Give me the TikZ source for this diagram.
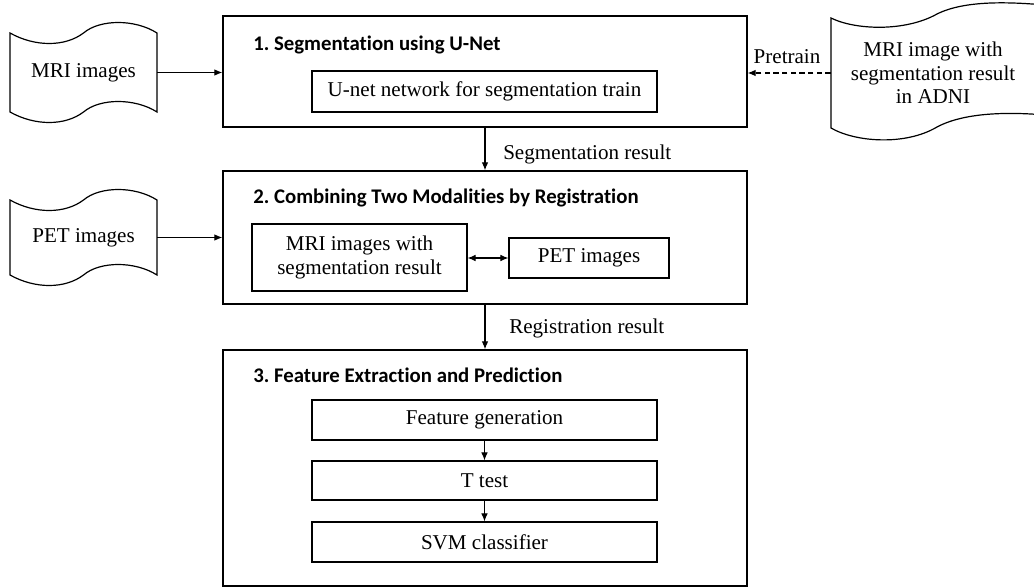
\documentclass[tikz,border=0pt]{standalone}
\usepackage{fontspec}
\setmainfont{Liberation Serif}
\newfontfamily\titlefont{Carlito}[Ligatures=NoCommon]
\usetikzlibrary{arrows.meta}
\frenchspacing
\tikzset{
  outerbox/.style={draw, line width=1.1pt, inner sep=0pt},
  inbox/.style={draw, line width=0.9pt, inner sep=0pt, align=center, font=\fontsize{15.8}{18.5}\selectfont},
  tapetext/.style={inner sep=0pt, align=center, font=\fontsize{15.8}{17.5}\selectfont},
  tapeline/.style={line width=0.9pt},
  title/.style={anchor=west, inner sep=0pt, font=\titlefont\bfseries\fontsize{15.6}{17.5}\selectfont},
  lbl/.style={inner sep=0pt, font=\fontsize{15.8}{17.5}\selectfont},
  arr/.style={-{Latex[length=6pt,width=5pt]}, line width=0.8pt},
  darr/.style={{Latex[length=6pt,width=5pt]}-{Latex[length=6pt,width=5pt]}, line width=0.8pt},
  dasharr/.style={-{Latex[length=6pt,width=5pt]}, line width=0.8pt, dash pattern=on 4pt off 2.5pt}
}
\begin{document}
\begin{tikzpicture}[x=0.75pt,y=-0.75pt]
\clip (0,0) rectangle (1034,588);
\fill[white] (0,0) rectangle (1034,588);

% outer boxes
\node[outerbox, minimum width={524*0.75pt}, minimum height={111*0.75pt}] (b1) at (485,71.5) {};
\node[outerbox, minimum width={524*0.75pt}, minimum height={133*0.75pt}] (b2) at (485,237.5) {};
\node[outerbox, minimum width={524*0.75pt}, minimum height={236*0.75pt}] (b3) at (485,468) {};

% titles
\node[title] (h1) at (253,45) {1. Segmentation using U-Net};
\node[title] (h2) at (253,198) {2. Combining Two Modalities by Registration};
\node[title] (h3) at (253,375) {3. Feature Extraction and Prediction};

% inner boxes
\node[inbox, minimum width={345*0.75pt}, minimum height={41*0.75pt}] (u1) at (484.5,91.5) {U-net network for segmentation train};
\node[inbox, minimum width={215*0.75pt}, minimum height={67*0.75pt}] (m2) at (359.5,257.5) {MRI images with\\segmentation result};
\node[inbox, minimum width={160*0.75pt}, minimum height={40*0.75pt}] (p2) at (589,258) {PET images};
\node[inbox, minimum width={345*0.75pt}, minimum height={40*0.75pt}] (f1) at (484.5,420) {Feature generation};
\node[inbox, minimum width={345*0.75pt}, minimum height={39*0.75pt}] (tt) at (484.5,480.5) {T test};
\node[inbox, minimum width={345*0.75pt}, minimum height={40*0.75pt}] (s1) at (484.5,542) {SVM classifier};

% tapes
\node[tapetext, minimum width={147*0.75pt}, minimum height={79*0.75pt}] (mri) at (83.5,72.5) {MRI images};
\draw[tapeline] (10,33) .. controls (35,47) and (65,47) .. (83.5,33) .. controls (100,19) and (135,19) .. (157,33)
  -- (157,112) .. controls (135,98) and (100,98) .. (83.5,112) .. controls (65,126) and (35,126) .. (10,112) -- cycle;

\node[tapetext, minimum width={147*0.75pt}, minimum height={75*0.75pt}] (pet) at (83.5,237.5) {PET images};
\draw[tapeline] (10,200) .. controls (35,214) and (65,214) .. (83.5,200) .. controls (100,186) and (135,186) .. (157,200)
  -- (157,275) .. controls (135,261) and (100,261) .. (83.5,275) .. controls (65,289) and (35,289) .. (10,275) -- cycle;

\node[tapetext, minimum width={204*0.75pt}, minimum height={110*0.75pt}] (adni) at (933,73) {MRI image with\\segmentation result\\in ADNI};
\draw[tapeline] (831,18) .. controls (855,30) and (905,32) .. (937,14) .. controls (965,0) and (1010,2) .. (1045,5)
  -- (1045,115) .. controls (1010,112) and (965,112) .. (937,127) .. controls (905,146) and (855,142) .. (831,128) -- cycle;

% connectors
\draw[arr] (mri) -- (mri -| b1.west);
\draw[arr] (pet) -- (pet -| b2.west);
\draw[dasharr] (adni.west) -- (adni.west -| b1.east);
\node[lbl] (pl) at (787,57) {Pretrain};
\draw[arr] (b1.south) -- (b2.north);
\node[lbl, anchor=west] (sl) at (503,154) {Segmentation result};
\draw[arr] (b2.south) -- (b3.north);
\node[lbl, anchor=west] (rl) at (509,328) {Registration result};
\draw[darr] (m2.east |- p2.west) -- (p2.west);
\draw[arr] (f1) -- (tt);
\draw[arr] (tt) -- (s1);
\end{tikzpicture}
\end{document}
